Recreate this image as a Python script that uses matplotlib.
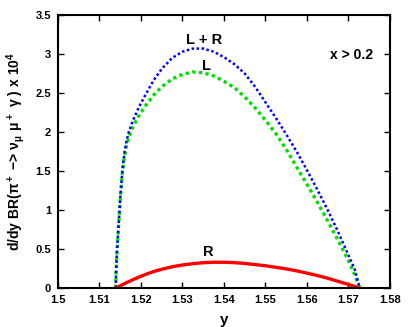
import matplotlib
matplotlib.use("Agg")
import matplotlib.pyplot as plt

plt.rcParams['font.family'] = ['Liberation Sans', 'DejaVu Sans']
plt.rcParams['font.weight'] = 'bold'
plt.rcParams['mathtext.default'] = 'regular'

v = [1.5139, 1.5140, 1.5142, 1.5145, 1.5150, 1.5155, 1.5160, 1.5165, 1.5170, 1.5180,
     1.5195, 1.5210, 1.5230, 1.5250, 1.5275, 1.5300, 1.5325, 1.5350, 1.5375, 1.5400,
     1.5425, 1.5450, 1.5475, 1.5500, 1.5525, 1.5550, 1.5575, 1.5600, 1.5625, 1.5650,
     1.5675, 1.5700, 1.5715, 1.5727]

LR = [0.0, 0.20, 0.45, 0.72, 1.15, 1.50, 1.73, 1.88, 1.99, 2.14,
      2.32, 2.47, 2.66, 2.81, 2.95, 3.03, 3.07, 3.07, 3.03, 2.96,
      2.87, 2.75, 2.58, 2.38, 2.18, 1.97, 1.75, 1.51, 1.26, 1.00,
      0.72, 0.42, 0.24, 0.0]

L = [0.0, 0.20, 0.45, 0.72, 1.13, 1.47, 1.68, 1.82, 1.92, 2.06,
     2.21, 2.33, 2.47, 2.58, 2.68, 2.74, 2.77, 2.76, 2.72, 2.65,
     2.57, 2.45, 2.31, 2.15, 1.98, 1.78, 1.55, 1.33, 1.10, 0.86,
     0.61, 0.35, 0.17, 0.0]

R = [0.0, 0.003, 0.008, 0.015, 0.028, 0.042, 0.055, 0.068, 0.08, 0.105,
     0.14, 0.172, 0.21, 0.24, 0.272, 0.295, 0.312, 0.324, 0.33, 0.33,
     0.325, 0.315, 0.30, 0.285, 0.265, 0.245, 0.22, 0.19, 0.16, 0.125,
     0.085, 0.045, 0.02, 0.0]

xticks = [1.5, 1.51, 1.52, 1.53, 1.54, 1.55, 1.56, 1.57, 1.58]
yticks = [0, 0.5, 1, 1.5, 2, 2.5, 3, 3.5]

fig = plt.figure(figsize=(4.09, 3.27), dpi=100)
ax = fig.add_axes([0.1418, 0.1193, 0.8117, 0.8347])

ax.plot(v, L, color='#00dd00', linestyle=(0, (1, 1)), linewidth=2.4)
ax.plot(v, LR, color='#0000ff', linestyle=(0, (1, 1)), linewidth=1.8)
ax.plot(v, R, color='#ff0000', linestyle='-', linewidth=2.4)

ax.set_xlim(1.5, 1.58)
ax.set_ylim(0, 3.5)
ax.set_xticks(xticks)
ax.set_xticklabels([f"{t:g}" for t in xticks])
ax.set_yticks(yticks)
ax.set_yticklabels([f"{t:g}" for t in yticks])
ax.tick_params(direction='in', top=True, right=True, length=4, width=1,
               labelsize=8, pad=5)
for lab in ax.get_xticklabels() + ax.get_yticklabels():
    lab.set_fontweight('bold')
for s in ax.spines.values():
    s.set_linewidth(1.5)

ax.set_xlabel('y', fontsize=11, fontweight='bold', labelpad=6)
ax.set_ylabel(r'd/dy BR($\pi^+$ −> $\nu_\mu\ \mu^+\ \gamma$ ) x 10$^4$',
              fontsize=10, fontweight='bold', labelpad=6)

ax.text(1.5352, 3.18, 'L + R', fontsize=10.5, fontweight='bold', ha='center', va='center')
ax.text(1.5359, 2.85, 'L', fontsize=10.5, fontweight='bold', ha='center', va='center')
ax.text(1.5361, 0.46, 'R', fontsize=10.5, fontweight='bold', ha='center', va='center')
ax.text(1.5708, 2.99, 'x > 0.2', fontsize=10, fontweight='bold', ha='center', va='center')

fig.savefig('out.png', dpi=100)
